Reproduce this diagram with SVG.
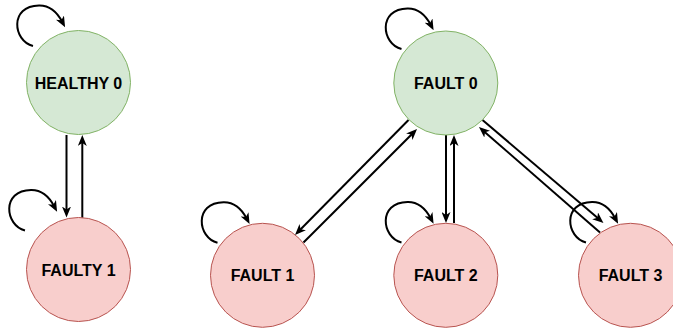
<svg xmlns="http://www.w3.org/2000/svg" width="673" height="329" viewBox="0 0 673 329">
  <defs>
    <marker id="arrow" markerUnits="userSpaceOnUse" markerWidth="11" markerHeight="9" viewBox="0 0 11 9" refX="5" refY="4.5" orient="auto">
      <path d="M0,0 L11,4.5 L0,9 L3,4.5 z" fill="#000"/>
    </marker>
    <!-- self-transition loop, drawn in the frame of HEALTHY 0 -->
    <path id="loop" d="M33,46 C13,41 9,6 39,5.5 C48,5.3 56,10 62.3,22" fill="none" stroke="#000" stroke-width="2" marker-end="url(#arrow)"/>
  </defs>
  <style>
    .ok { fill: #d5e8d4; stroke: #82b366; stroke-width: 1; }
    .bad { fill: #f8cecc; stroke: #b85450; stroke-width: 1; }
    .lbl { font-family: "Liberation Sans", Arial, sans-serif; font-weight: bold; font-size: 16px; fill: #000; text-anchor: middle; }
    .edge { fill: none; stroke: #000; stroke-width: 2; marker-end: url(#arrow); }
  </style>

  <g id="connectors">
    <!-- HEALTHY 0 <-> FAULTY 1 -->
    <path class="edge" d="M66.5,135 L66.5,211.5"/>
    <path class="edge" d="M82.3,218 L82.3,141"/>
    <!-- FAULT 0 <-> FAULT 1 -->
    <path class="edge" d="M408.5,120 L299.2,230.7"/>
    <path class="edge" d="M303.5,242.5 L412.8,133.2"/>
    <!-- FAULT 0 <-> FAULT 2 -->
    <path class="edge" d="M446,135 L446,217"/>
    <path class="edge" d="M454,223 L454,141"/>
    <!-- FAULT 0 <-> FAULT 3 -->
    <path class="edge" d="M482.5,120 L598.9,219.1"/>
    <path class="edge" d="M600,232.5 L483.5,130.9"/>
    <!-- self loops -->
    <use href="#loop"/>
    <use href="#loop" transform="translate(-8,184.5)"/>
    <use href="#loop" transform="translate(368.5,3)"/>
    <use href="#loop" transform="translate(184.5,196.7)"/>
    <use href="#loop" transform="translate(368.5,196.5)"/>
    <use href="#loop" transform="translate(553,196.5)"/>
  </g>

  <g id="healthy0">
    <circle class="ok" cx="78.5" cy="82.5" r="52"/>
    <text class="lbl" x="78.5" y="88.5">HEALTHY 0</text>
  </g>
  <g id="faulty1">
    <circle class="bad" cx="78.5" cy="269.5" r="52"/>
    <text class="lbl" x="78.5" y="275.5">FAULTY 1</text>
  </g>
  <g id="fault0">
    <circle class="ok" cx="445.8" cy="83" r="52"/>
    <text class="lbl" x="445.8" y="89">FAULT 0</text>
  </g>
  <g id="fault1">
    <circle class="bad" cx="262.5" cy="275.3" r="52"/>
    <text class="lbl" x="262.5" y="281.3">FAULT 1</text>
  </g>
  <g id="fault2">
    <circle class="bad" cx="445.8" cy="275.3" r="52"/>
    <text class="lbl" x="445.8" y="281.3">FAULT 2</text>
  </g>
  <g id="fault3">
    <circle class="bad" cx="630.5" cy="275.3" r="52"/>
    <text class="lbl" x="630.5" y="281.3">FAULT 3</text>
  </g>
</svg>
